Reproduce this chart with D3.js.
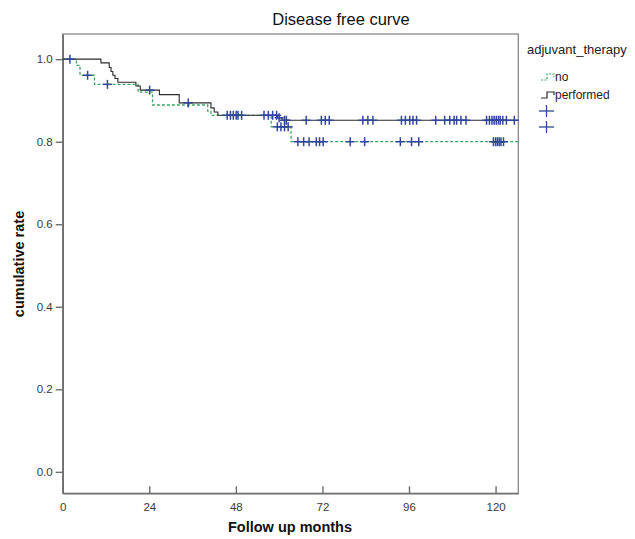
<!DOCTYPE html>
<html>
<head>
<meta charset="utf-8">
<script src="https://cdn.jsdelivr.net/npm/d3@7"></script>
<style>
  body { margin: 0; background: #fff; }
  svg { display: block; font-family: Arial, "Liberation Sans", sans-serif; }
</style>
</head>
<body>
<svg id="chart" width="635" height="539"></svg>
<script>
// Kaplan-Meier steps (months, cumulative rate) per adjuvant_therapy group
const noTimes = [0, 3.8, 4.8, 8.8, 20.9, 24.9, 40.2, 41.1, 57.8, 63.3, 126.3];
const noRates = [1.0, 0.985, 0.961, 0.939, 0.920, 0.889, 0.874, 0.864, 0.836, 0.800, 0.800];
const noCensored = [6.9, 12.4, 59.5, 60.5, 61.5, 62.5, 65.2, 66.8, 68.3, 70.3, 71.2, 72.2,
  79.7, 83.7, 93.6, 96.7, 98.7, 119.4, 120.0, 120.5, 121.0, 121.5, 122.2];

const perfTimes = [0, 10.6, 12.9, 13.4, 13.9, 14.5, 15.3, 20.3, 21.5, 26.8, 32.3, 41.1, 42.0, 43.0, 59.6, 60.8, 126.3];
const perfRates = [1.0, 0.991, 0.980, 0.970, 0.961, 0.953, 0.944, 0.935, 0.925, 0.914, 0.894, 0.882, 0.872, 0.864, 0.858, 0.852, 0.852];
const perfCensored = [2.0, 24.1, 34.8, 45.6, 46.5, 47.3, 48.1, 48.6, 49.6, 55.8, 57.0, 58.2, 59.3, 60.0,
  61.5, 62.0, 67.5, 71.7, 72.8, 73.9, 83.2, 84.6, 86.0, 93.9, 95.0, 96.2, 97.1, 98.1, 103.4,
  105.9, 107.3, 108.5, 109.2, 110.4, 111.8, 117.5, 118.3, 119.0, 119.6, 120.2, 120.8, 121.3,
  122.0, 123.0, 125.2];

const groupNames = ["no", "performed"];
const xTicks = [0, 24, 48, 72, 96, 120];
const yTicks = [0.0, 0.2, 0.4, 0.6, 0.8, 1.0];

const svg = d3.select("#chart");
const plotLeft = 62.7, plotRight = 518.3, plotTop = 34, plotBottom = 493.3;

const x = d3.scaleLinear().domain([0, 126.3]).range([plotLeft, plotRight]);
const y = d3.scaleLinear().domain([-0.052, 1.061]).range([plotBottom, plotTop]);

const green = "#3aa564", black = "#2b2b2b", blue = "#31459a", frame = "#6e6e6e";

// plot frame
svg.append("rect")
  .attr("x", plotLeft).attr("y", plotTop)
  .attr("width", plotRight - plotLeft).attr("height", plotBottom - plotTop)
  .attr("fill", "none").attr("stroke", "#8a8a8a").attr("stroke-width", 1.3);

// axes
const xAxis = svg.append("g").attr("transform", `translate(0,${plotBottom})`)
  .call(d3.axisBottom(x).tickValues(xTicks).tickSizeInner(-7).tickSizeOuter(0).tickPadding(10));
const yAxis = svg.append("g").attr("transform", `translate(${plotLeft},0)`)
  .call(d3.axisLeft(y).tickValues(yTicks).tickFormat(d3.format(".1f")).tickSizeInner(7).tickSizeOuter(0).tickPadding(3));
[xAxis, yAxis].forEach(g => {
  g.select(".domain").attr("stroke", frame).attr("stroke-width", 1.6);
  g.selectAll(".tick line").attr("stroke", frame).attr("stroke-width", 1.4);
  g.selectAll(".tick text").attr("fill", "#3a3a3a").attr("font-size", 11.5)
    .attr("font-family", "Arial, 'Liberation Sans', sans-serif");
});

// survival curves
const step = d3.line().x(d => x(d[0])).y(d => y(d[1])).curve(d3.curveStepAfter);
const noData = d3.zip(noTimes, noRates);
const perfData = d3.zip(perfTimes, perfRates);

svg.append("path").datum(noData).attr("d", step)
  .attr("fill", "none").attr("stroke", green).attr("stroke-width", 1.3).attr("stroke-dasharray", "3,2");
svg.append("path").datum(perfData).attr("d", step)
  .attr("fill", "none").attr("stroke", black).attr("stroke-width", 1.1);

// censored observations
function rateAt(times, rates, t) {
  const i = d3.bisectRight(times, t) - 1;
  return rates[Math.max(0, i)];
}
function drawCensors(times, rates, censored) {
  const g = svg.append("g").attr("stroke", blue).attr("stroke-width", 1.5);
  censored.forEach(t => {
    const cx = x(t), cy = y(rateAt(times, rates, t));
    g.append("line").attr("x1", cx - 4.5).attr("x2", cx + 4.5).attr("y1", cy).attr("y2", cy);
    g.append("line").attr("x1", cx).attr("x2", cx).attr("y1", cy - 4.5).attr("y2", cy + 4.5);
  });
}
drawCensors(noTimes, noRates, noCensored);
drawCensors(perfTimes, perfRates, perfCensored);

// title and axis titles
svg.append("text").attr("x", 341).attr("y", 25).attr("text-anchor", "middle")
  .attr("font-size", 16.5).attr("fill", "#111").text("Disease free curve");
svg.append("text").attr("x", 290).attr("y", 532).attr("text-anchor", "middle")
  .attr("font-size", 14.5).attr("font-weight", "bold").attr("fill", "#111").text("Follow up months");
svg.append("text").attr("transform", "translate(24,264) rotate(-90)").attr("text-anchor", "middle")
  .attr("font-size", 14.5).attr("font-weight", "bold").attr("fill", "#111").text("cumulative rate");

// legend
const lg = svg.append("g");
lg.append("text").attr("x", 527).attr("y", 54).attr("font-size", 13).attr("fill", "#222").text("adjuvant_therapy");
const legendStep = (ly) => `M541,${ly + 4} H547 V${ly - 2} H554 V${ly + 1}`;
const rows = [
  { name: groupNames[0], ly: 76, color: green, dash: "2,1.5" },
  { name: groupNames[1], ly: 94, color: black, dash: null }
];
rows.forEach(r => {
  lg.append("path").attr("d", legendStep(r.ly)).attr("fill", "none")
    .attr("stroke", r.color).attr("stroke-width", 1.2).attr("stroke-dasharray", r.dash);
  lg.append("text").attr("x", 555).attr("y", r.ly + 5).attr("font-size", 12).attr("fill", "#222").text(r.name);
});
[111, 127].forEach(ly => {
  lg.append("line").attr("x1", 539).attr("x2", 554).attr("y1", ly).attr("y2", ly).attr("stroke", blue).attr("stroke-width", 1.3);
  lg.append("line").attr("x1", 546.5).attr("x2", 546.5).attr("y1", ly - 6).attr("y2", ly + 6).attr("stroke", blue).attr("stroke-width", 1.3);
});
</script>
</body>
</html>
